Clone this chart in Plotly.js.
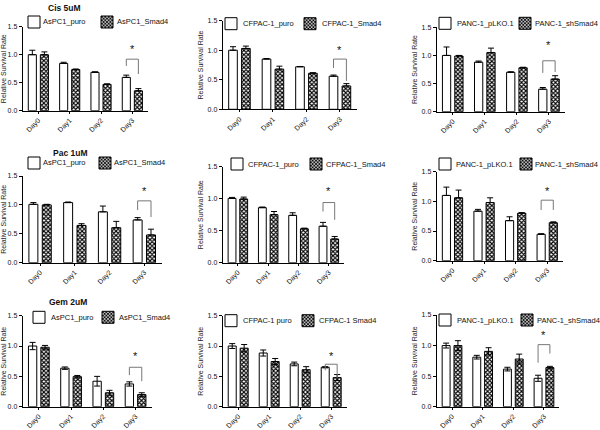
<!DOCTYPE html>
<html><head><meta charset="utf-8">
<script src="https://cdn.plot.ly/plotly-3.0.1.min.js"></script>
<style>html,body{margin:0;padding:0;background:#fff;}#chart{width:600px;height:430px;}</style>
</head><body><div id="chart"></div>
<script>
// ---------- data ----------
const days = ['Day0', 'Day1', 'Day2', 'Day3'];
const yTickVals = [0, 0.5, 1.0, 1.5];
const yTickText = ['0.0', '0.5', '1.0', '1.5'];
const drugTitles = ['Cis 5uM', 'Pac 1uM', 'Gem 2uM'];
const yTitle = 'Relative Survival Rate';

// Cis 5uM
const cisAsPC1Names = ['AsPC1_puro', 'AsPC1_Smad4'];
const cisAsPC1Puro = [1.00, 0.845, 0.685, 0.595];
const cisAsPC1PuroErr = [0.08, 0.02, 0.01, 0.04];
const cisAsPC1Smad4 = [1.00, 0.735, 0.47, 0.355];
const cisAsPC1Smad4Err = [0.05, 0.01, 0.01, 0.04];

const cisCFPACNames = ['CFPAC-1_puro', 'CFPAC-1_Smad4'];
const cisCFPACPuro = [1.00, 0.85, 0.72, 0.56];
const cisCFPACPuroErr = [0.06, 0.01, 0.005, 0.02];
const cisCFPACSmad4 = [1.03, 0.68, 0.61, 0.395];
const cisCFPACSmad4Err = [0.04, 0.05, 0.01, 0.04];

const cisPANCNames = ['PANC-1_pLKO.1', 'PANC-1_shSmad4'];
const cisPANCpLKO = [1.00, 0.88, 0.70, 0.40];
const cisPANCpLKOErr = [0.15, 0.02, 0.01, 0.03];
const cisPANCsh = [0.99, 1.05, 0.78, 0.58];
const cisPANCshErr = [0.01, 0.08, 0.01, 0.06];

// Pac 1uM
const pacAsPC1Names = ['AsPC1_puro', 'AsPC1_Smad4'];
const pacAsPC1Puro = [1.01, 1.04, 0.88, 0.74];
const pacAsPC1PuroErr = [0.03, 0.01, 0.10, 0.04];
const pacAsPC1Smad4 = [1.00, 0.645, 0.605, 0.48];
const pacAsPC1Smad4Err = [0.01, 0.03, 0.11, 0.10];

const pacCFPACNames = ['CFPAC-1_puro', 'CFPAC-1_Smad4'];
const pacCFPACPuro = [1.005, 0.86, 0.74, 0.57];
const pacCFPACPuroErr = [0.015, 0.01, 0.04, 0.06];
const pacCFPACSmad4 = [0.995, 0.75, 0.53, 0.37];
const pacCFPACSmad4Err = [0.03, 0.05, 0.01, 0.04];

const pacPANCNames = ['PANC-1_pLKO.1', 'PANC-1_shSmad4'];
const pacPANCpLKO = [1.10, 0.835, 0.675, 0.445];
const pacPANCpLKOErr = [0.14, 0.03, 0.065, 0.01];
const pacPANCsh = [1.06, 0.98, 0.80, 0.64];
const pacPANCshErr = [0.13, 0.08, 0.01, 0.015];

// Gem 2uM
const gemAsPC1Names = ['AsPC1_puro', 'AsPC1_Smad4'];
const gemAsPC1Puro = [1.00, 0.635, 0.42, 0.375];
const gemAsPC1PuroErr = [0.06, 0.02, 0.08, 0.035];
const gemAsPC1Smad4 = [0.98, 0.495, 0.23, 0.20];
const gemAsPC1Smad4Err = [0.03, 0.02, 0.04, 0.03];

const gemCFPACNames = ['CFPAC-1 puro', 'CFPAC-1 Smad4'];
const gemCFPACPuro = [1.00, 0.885, 0.705, 0.65];
const gemCFPACPuroErr = [0.04, 0.05, 0.03, 0.01];
const gemCFPACSmad4 = [0.965, 0.745, 0.61, 0.48];
const gemCFPACSmad4Err = [0.06, 0.05, 0.05, 0.05];

const gemPANCNames = ['PANC-1_pLKO.1', 'PANC-1_shSmad4'];
const gemPANCpLKO = [1.00, 0.81, 0.615, 0.465];
const gemPANCpLKOErr = [0.04, 0.03, 0.03, 0.05];
const gemPANCsh = [1.00, 0.905, 0.78, 0.64];
const gemPANCshErr = [0.08, 0.06, 0.08, 0.02];

// significance bracket levels on Day3: [bracket top, left leg end, right leg end, star]
const cisAsPC1Sig = [0.92, 0.80, 0.655, 1.10];
const cisCFPACSig = [0.85, 0.70, 0.48, 1.00];
const cisPANCSig = [0.905, 0.69, 0.705, 1.18];
const pacAsPC1Sig = [1.07, 0.91, 0.79, 1.24];
const pacCFPACSig = [0.94, 0.80, 0.67, 1.125];
const pacPANCSig = [1.02, 0.855, 0.855, 1.18];
const gemAsPC1Sig = [0.65, 0.52, 0.42, 0.83];
const gemCFPACSig = [0.70, 0.60, 0.47, 0.83];
const gemPANCSig = [1.015, 0.72, 0.87, 1.18];
const sigDay = 'Day3';
const sigMark = '*';

// ---------- build ----------
const panels = [
  {names: cisAsPC1Names, vals: [cisAsPC1Puro, cisAsPC1Smad4], errs: [cisAsPC1PuroErr, cisAsPC1Smad4Err], sig: cisAsPC1Sig, sym: false},
  {names: cisCFPACNames, vals: [cisCFPACPuro, cisCFPACSmad4], errs: [cisCFPACPuroErr, cisCFPACSmad4Err], sig: cisCFPACSig, sym: false},
  {names: cisPANCNames, vals: [cisPANCpLKO, cisPANCsh], errs: [cisPANCpLKOErr, cisPANCshErr], sig: cisPANCSig, sym: false},
  {names: pacAsPC1Names, vals: [pacAsPC1Puro, pacAsPC1Smad4], errs: [pacAsPC1PuroErr, pacAsPC1Smad4Err], sig: pacAsPC1Sig, sym: false},
  {names: pacCFPACNames, vals: [pacCFPACPuro, pacCFPACSmad4], errs: [pacCFPACPuroErr, pacCFPACSmad4Err], sig: pacCFPACSig, sym: false},
  {names: pacPANCNames, vals: [pacPANCpLKO, pacPANCsh], errs: [pacPANCpLKOErr, pacPANCshErr], sig: pacPANCSig, sym: false},
  {names: gemAsPC1Names, vals: [gemAsPC1Puro, gemAsPC1Smad4], errs: [gemAsPC1PuroErr, gemAsPC1Smad4Err], sig: gemAsPC1Sig, sym: true},
  {names: gemCFPACNames, vals: [gemCFPACPuro, gemCFPACSmad4], errs: [gemCFPACPuroErr, gemCFPACSmad4Err], sig: gemCFPACSig, sym: true},
  {names: gemPANCNames, vals: [gemPANCpLKO, gemPANCsh], errs: [gemPANCpLKOErr, gemPANCshErr], sig: gemPANCSig, sym: true}
];

// pixel frame of each subplot: [left, right, y of 0, y of 1.5]
const W = 600, H = 430;
const geom = [
  [22.7, 148, 110.7, 26.7], [222.7, 356.7, 109.3, 20.7], [436.7, 565, 111.7, 27.3],
  [22.7, 161.7, 262.7, 176], [222.7, 344, 262.7, 166.7], [436.7, 563, 260.7, 171.7],
  [22.7, 151.7, 406.7, 315.7], [222.7, 346.7, 406.7, 315.7], [436.7, 559.3, 406.7, 315]
];
// legend: [key box centre 1, text start 1, key box centre 2, text start 2, y centre]
const legendPos = [
  [34, 43, 107, 117, 22], [231, 243, 310, 322, 23.7], [445, 457, 525, 535, 23.3],
  [34, 43, 105, 114, 163], [237, 248, 316, 326, 164], [445, 456, 526, 535, 164],
  [39, 51, 108, 119, 317.3], [231, 243, 308, 319, 320.7], [445, 457, 527, 537, 320]
];
const titlePos = [[64, 8], [70, 153], [68, 302]];

const FONT = 'Liberation Sans, Arial, Helvetica, sans-serif';
const bargap = 0.23;
const traces = [];
const layout = {
  width: W, height: H, margin: {l: 0, r: 0, t: 0, b: 0},
  paper_bgcolor: '#fff', plot_bgcolor: 'rgba(0,0,0,0)',
  barmode: 'group', bargap: bargap, bargroupgap: 0.33,
  font: {family: FONT, color: '#111', size: 7},
  showlegend: true, shapes: [], annotations: []
};

let legendCount = 0;
panels.forEach((p, i) => {
  const s = i === 0 ? '' : String(i + 1);
  const xa = 'x' + s, ya = 'y' + s;
  const lp = legendPos[i];
  p.vals.forEach((v, k) => {
    legendCount += 1;
    const lg = 'legend' + (legendCount === 1 ? '' : legendCount);
    const marker = {color: '#fff', line: {color: '#000', width: 1}};
    if (k === 1) marker.pattern = {shape: 'x', size: 3, solidity: 0.6, fgcolor: '#000', bgcolor: '#fff', fillmode: 'replace'};
    const err = p.sym
      ? {type: 'data', array: p.errs[k], color: '#000', thickness: 1, width: 3}
      : {type: 'data', symmetric: false, array: p.errs[k], arrayminus: p.errs[k].map(() => 0), color: '#000', thickness: 1, width: 3};
    traces.push({type: 'bar', x: days, y: v, name: '', xaxis: xa, yaxis: ya, legend: lg,
      marker: marker, error_y: err, hoverinfo: 'skip'});
    // legend key (symbol only) positioned on its own; its label is an annotation
    const keyX = lp[k * 2], textX = lp[k * 2 + 1];
    layout[lg] = {
      x: (keyX - 20) / W, y: 1 - lp[4] / H, xanchor: 'left', yanchor: 'middle', orientation: 'h',
      font: {size: 7.5, family: FONT, color: '#111'}, bgcolor: 'rgba(0,0,0,0)', borderwidth: 0
    };
    layout.annotations.push({xref: 'paper', yref: 'paper', x: (textX - 2) / W, y: 1 - lp[4] / H,
      text: p.names[k], showarrow: false, xanchor: 'left', yanchor: 'middle',
      font: {size: 7.5, family: FONT, color: '#111'}});
  });
  const g = geom[i];
  layout['xaxis' + s] = {
    domain: [g[0] / W, g[1] / W], anchor: ya, type: 'category', range: [-0.5, 3.5],
    showline: true, linecolor: '#000', linewidth: 1, ticks: 'outside', ticklen: 2, tickwidth: 1, tickcolor: '#000',
    tickangle: -45, tickfont: {size: 7, family: FONT, color: '#111'}, showgrid: false, zeroline: false, fixedrange: true
  };
  layout['yaxis' + s] = {
    domain: [1 - g[2] / H, 1 - g[3] / H], anchor: xa, range: [0, 1.5],
    tickmode: 'array', tickvals: yTickVals, ticktext: yTickText,
    showline: true, linecolor: '#000', linewidth: 1, ticks: 'outside', ticklen: 3, tickwidth: 1, tickcolor: '#000',
    tickfont: {size: 7, family: FONT, color: '#111'}, showgrid: false, zeroline: false, fixedrange: true,
    title: {text: yTitle, font: {size: 7, family: FONT, color: '#222'}, standoff: 3}
  };
  // significance bracket between the two Day3 bars
  const c = days.indexOf(sigDay);
  const off = (1 - bargap) / 4;
  const lineStyle = {color: '#777', width: 1};
  layout.shapes.push(
    {type: 'line', xref: xa, yref: ya, x0: c - off, x1: c - off, y0: p.sig[1], y1: p.sig[0], line: lineStyle},
    {type: 'line', xref: xa, yref: ya, x0: c - off, x1: c + off, y0: p.sig[0], y1: p.sig[0], line: lineStyle},
    {type: 'line', xref: xa, yref: ya, x0: c + off, x1: c + off, y0: p.sig[2], y1: p.sig[0], line: lineStyle}
  );
  layout.annotations.push({xref: xa, yref: ya, x: c, y: p.sig[3], text: sigMark, showarrow: false,
    font: {size: 11, family: FONT, color: '#111'}, xanchor: 'center', yanchor: 'middle'});
});

drugTitles.forEach((t, r) => {
  layout.annotations.push({xref: 'paper', yref: 'paper', x: titlePos[r][0] / W, y: 1 - titlePos[r][1] / H,
    text: '<b>' + t + '</b>', showarrow: false, xanchor: 'center', yanchor: 'middle',
    font: {size: 8.5, family: FONT, color: '#111'}});
});

Plotly.newPlot('chart', traces, layout, {displayModeBar: false, staticPlot: true});
</script>
</body></html>
